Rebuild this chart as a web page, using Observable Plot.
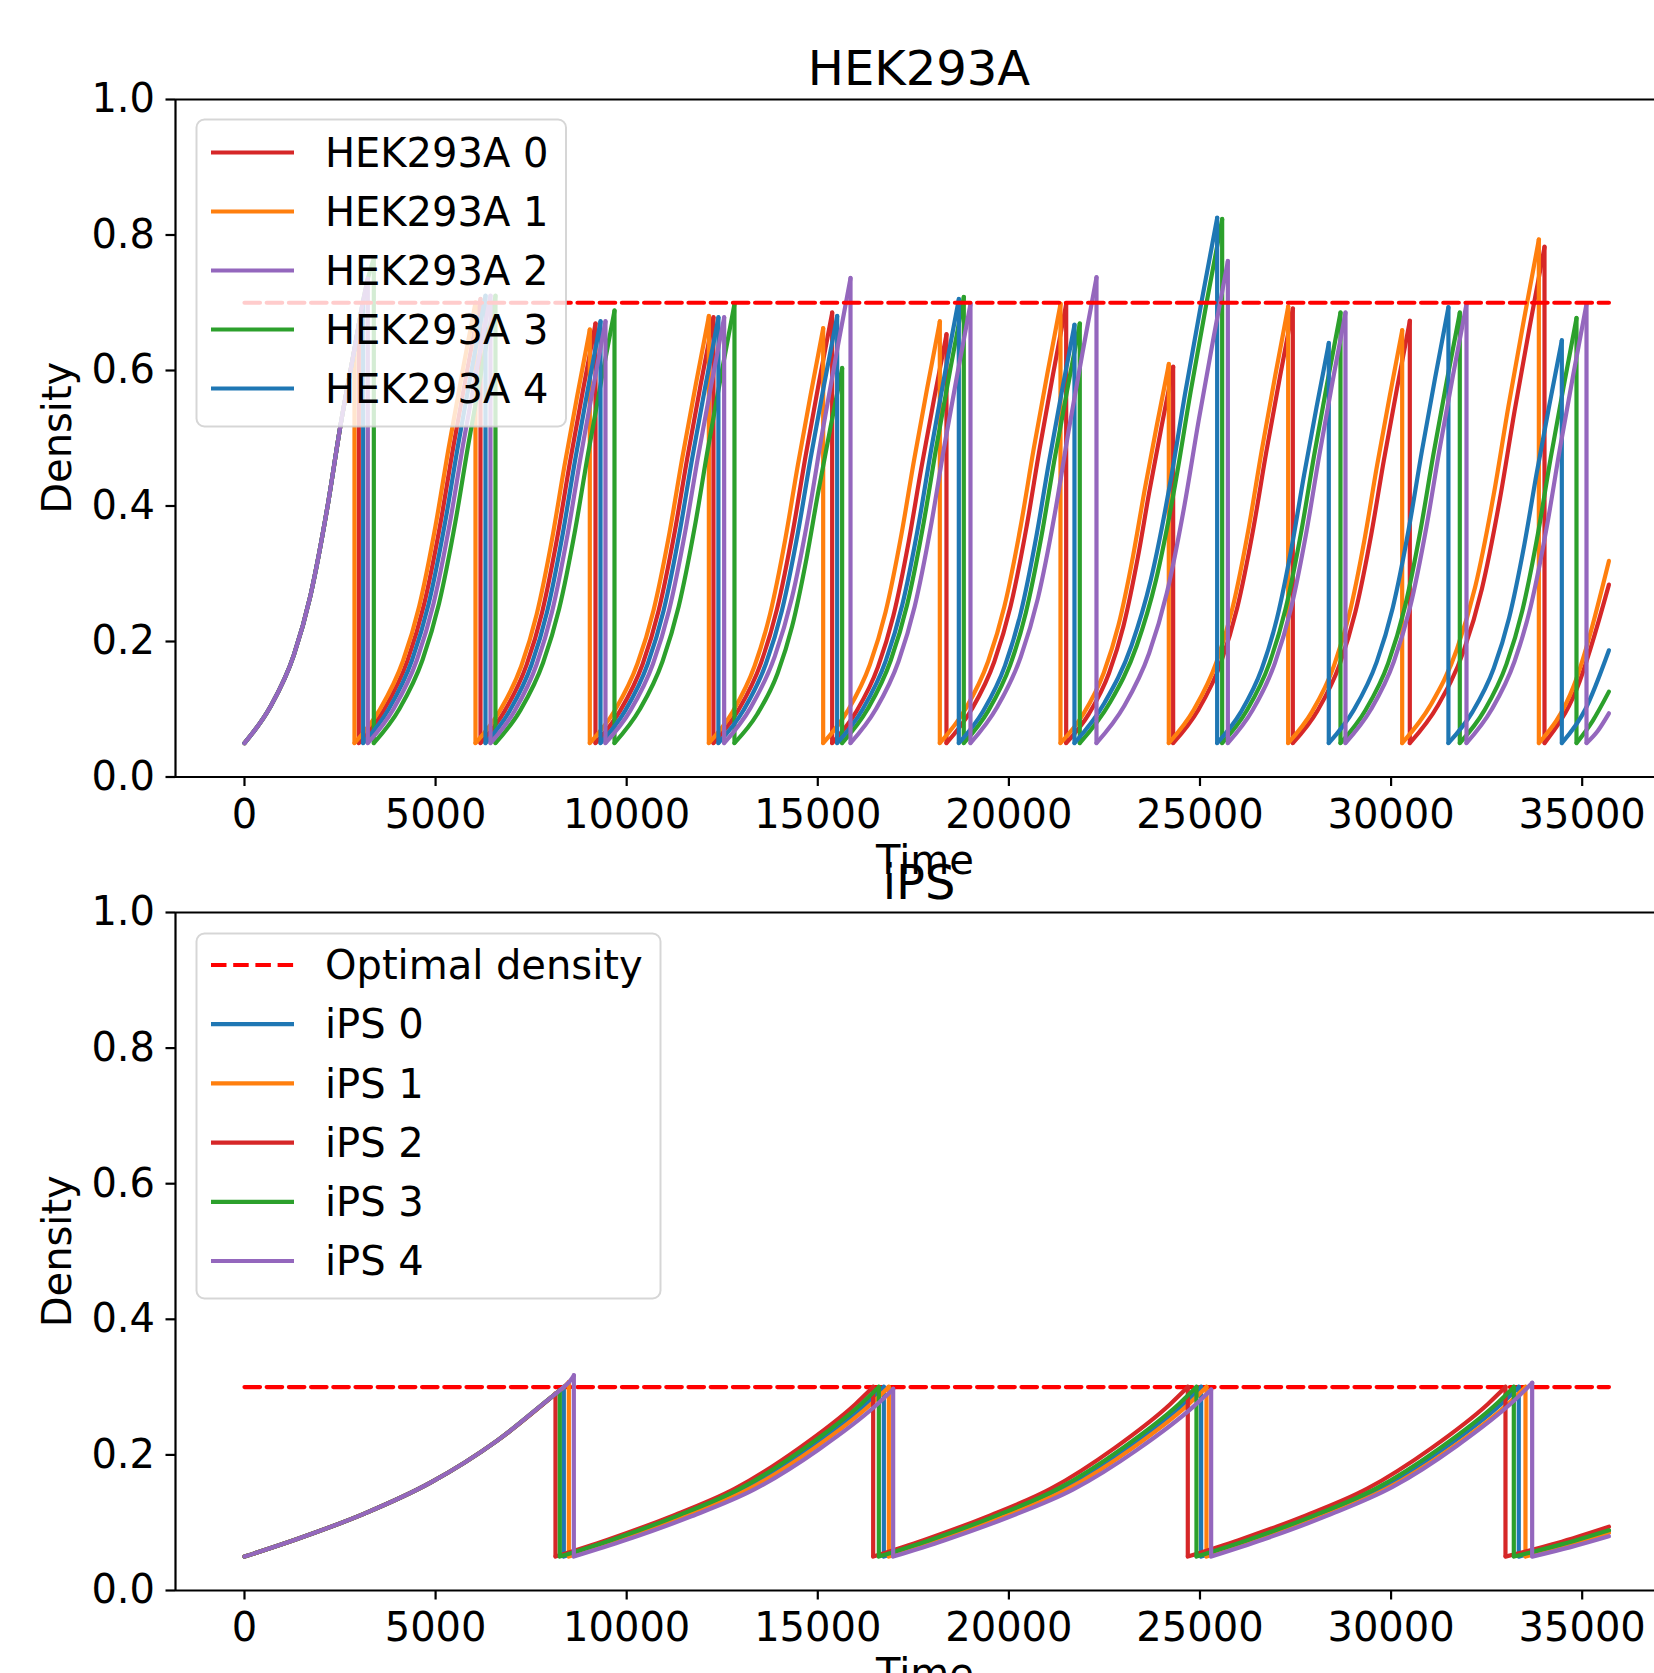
<!DOCTYPE html>
<html>
<head>
<meta charset="utf-8">
<script src="https://cdn.jsdelivr.net/npm/d3@7"></script>
<script src="https://cdn.jsdelivr.net/npm/@observablehq/plot@0.6"></script>
<style>
html, body { margin: 0; padding: 0; background: #ffffff; }
#fig { position: relative; width: 1654px; height: 1673px; overflow: hidden; background: #ffffff; font-family: "DejaVu Sans", sans-serif; }
#fig > svg { position: absolute; left: 0; }
</style>
</head>
<body>
<div id="fig"></div>
<script>
// ---------------- DATA ----------------
const END_TIME = 35700;          // last simulated time
const START_DENSITY = 0.05;      // density right after each passage

const hekTitle = "HEK293A";
const hekOptimal = 0.7;
const hekNames  = ["HEK293A 0", "HEK293A 1", "HEK293A 2", "HEK293A 3", "HEK293A 4"];
const hekColors = ["#d62728", "#ff7f0e", "#9467bd", "#2ca02c", "#1f77b4"];
// first growth phase, shared by all HEK293A series
const hekInitialTime    = [0, 680, 1291, 1727, 2163, 2512, 2878, 2991, 3105, 3227, 3384];
const hekInitialDensity = [0.05, 0.104, 0.180, 0.268, 0.396, 0.519, 0.632, 0.668, 0.703, 0.735, 0.765];
// passage (drop) times per series
const hekPassageTimes = [
  [2991, 6175, 9184, 12270, 15376, 18367, 21499, 24298, 27429, 30490, 34014],
  [2878, 6044, 9035, 12150, 15141, 18193, 21350, 24184, 27307, 30290, 33866],
  [3227, 6436, 9445, 12550, 15856, 18995, 22292, 25729, 28807, 31973, 35113],
  [3384, 6567, 9681, 12820, 15637, 18820, 21855, 25580, 28676, 31798, 34851],
  [3105, 6306, 9315, 12400, 15507, 18690, 21716, 25449, 28370, 31500, 34467]
];
// density reached just before each passage
const hekPeakDensity = [
  [0.668, 0.705, 0.669, 0.678, 0.685, 0.653, 0.698, 0.605, 0.691, 0.673, 0.782],
  [0.632, 0.700, 0.660, 0.680, 0.662, 0.672, 0.698, 0.609, 0.694, 0.659, 0.793],
  [0.735, 0.710, 0.672, 0.678, 0.736, 0.698, 0.737, 0.761, 0.685, 0.698, 0.698],
  [0.765, 0.710, 0.688, 0.698, 0.603, 0.708, 0.669, 0.823, 0.685, 0.685, 0.677],
  [0.703, 0.710, 0.672, 0.678, 0.680, 0.705, 0.667, 0.825, 0.640, 0.693, 0.644]
];
// last (unfinished) growth phase: density half way and at the last time point
const hekLastMidDensity = [0.130, 0.135, 0.068, 0.083, 0.100];
const hekEndDensity     = [0.284, 0.319, 0.094, 0.126, 0.187];
// growth-curve shape of a full passage (fraction of passage time, fraction of rise)
const hekShapeU = [0, 0.211, 0.400, 0.535, 0.670, 0.778, 0.890, 1];
const hekShapeV = [0, 0.077, 0.186, 0.311, 0.494, 0.670, 0.840, 1];

const ipsTitle = "iPS";
const ipsOptimal = 0.3;
const ipsNames  = ["iPS 0", "iPS 1", "iPS 2", "iPS 3", "iPS 4"];
const ipsColors = ["#1f77b4", "#ff7f0e", "#d62728", "#2ca02c", "#9467bd"];
const ipsInitialTime    = [0, 1379, 3122, 4866, 6612, 8137, 8250, 8355, 8486, 8617];
const ipsInitialDensity = [0.05, 0.076, 0.113, 0.159, 0.221, 0.290, 0.295, 0.300, 0.307, 0.317];
const ipsPassageTimes = [
  [8355, 16728, 25030, 33341],
  [8486, 16859, 25170, 33516],
  [8137, 16449, 24681, 32993],
  [8250, 16597, 24908, 33211],
  [8617, 16972, 25292, 33691]
];
const ipsPeakDensity = [
  [0.300, 0.300, 0.300, 0.300],
  [0.307, 0.300, 0.300, 0.300],
  [0.290, 0.300, 0.300, 0.300],
  [0.295, 0.300, 0.300, 0.300],
  [0.317, 0.297, 0.296, 0.306]
];
const ipsLastMidDensity = [0.067, 0.066, 0.070, 0.068, 0.064];
const ipsEndDensity     = [0.088, 0.085, 0.094, 0.089, 0.080];
const ipsShapeU = [0, 0.160, 0.362, 0.565, 0.767, 0.944, 1];
const ipsShapeV = [0, 0.097, 0.236, 0.401, 0.640, 0.899, 1];

const timeTicks = [0, 5000, 10000, 15000, 20000, 25000, 30000, 35000];
const densityTicks = [0, 0.2, 0.4, 0.6, 0.8, 1.0];
const xLabel = "Time";
const yLabel = "Density";
const optimalLabel = "Optimal density";

// ---------------- BUILD ----------------
const LW = 4.2;
const FONT = "DejaVu Sans";
const FS = 40;
const DASH = "15.5,6.7";
const X_DOMAIN = [-1805, 36892];

function buildSeries(cfg) {
  const {names, initT, initD, drops, peaks, mids, ends, U, V} = cfg;
  const lines = [], rules = [];
  names.forEach((name, i) => {
    const dr = drops[i];
    // first passage: shared initial growth curve up to this series' drop
    initT.forEach((t, j) => {
      if (t <= dr[0]) lines.push({series: name, seg: 0, time: t, density: initD[j]});
    });
    // full passages between two drops
    for (let k = 1; k < dr.length; k++) {
      const s = dr[k - 1], e = dr[k], p = peaks[i][k];
      U.forEach((u, j) => lines.push({series: name, seg: k, time: s + u * (e - s),
        density: START_DENSITY + V[j] * (p - START_DENSITY)}));
    }
    // last unfinished passage
    const last = dr[dr.length - 1];
    lines.push({series: name, seg: dr.length, time: last, density: START_DENSITY});
    lines.push({series: name, seg: dr.length, time: (last + END_TIME) / 2, density: mids[i]});
    lines.push({series: name, seg: dr.length, time: END_TIME, density: ends[i]});
    dr.forEach((t, k) => rules.push({series: name, time: t, base: START_DENSITY, top: peaks[i][k]}));
  });
  return {lines, rules};
}

function makePanel(cfg) {
  const {names, colors, optimal, order, dashOnTop, height, marginTop, marginBottom} = cfg;
  const {lines, rules} = buildSeries(cfg);
  const dashed = Plot.line([[0, optimal], [END_TIME, optimal]], {
    stroke: "#ff0000", strokeWidth: LW, strokeDasharray: DASH
  });
  const marks = [];
  if (!dashOnTop) marks.push(dashed);
  order.forEach(i => {
    const nm = names[i];
    marks.push(Plot.line(lines.filter(d => d.series === nm), {
      x: "time", y: "density", z: "seg", stroke: colors[i], strokeWidth: LW,
      curve: "monotone-x", strokeLinecap: "round", strokeLinejoin: "round"
    }));
    marks.push(Plot.ruleX(rules.filter(d => d.series === nm), {
      x: "time", y1: "base", y2: "top", stroke: colors[i], strokeWidth: LW, strokeLinecap: "round"
    }));
  });
  if (dashOnTop) marks.push(dashed);
  marks.push(Plot.ruleY([0], {stroke: "black", strokeWidth: 2.2}));
  marks.push(Plot.ruleY([1], {stroke: "black", strokeWidth: 2.2}));
  marks.push(Plot.ruleX([X_DOMAIN[0]], {stroke: "black", strokeWidth: 2.2}));
  marks.push(Plot.axisX(timeTicks, {tickFormat: d => String(d), tickSize: 9.5, tickPadding: 13,
    fontSize: FS, strokeWidth: 2.2, label: null}));
  marks.push(Plot.axisY(densityTicks, {tickFormat: d => d.toFixed(1), tickSize: 9.5, tickPadding: 11,
    fontSize: FS, strokeWidth: 2.2, label: null}));
  return Plot.plot({
    width: 1654, height, marginTop, marginBottom, marginLeft: 175, marginRight: 0,
    x: {domain: X_DOMAIN, label: null},
    y: {domain: [0, 1], label: null},
    style: {background: "transparent", overflow: "visible", fontFamily: FONT, color: "black"},
    marks
  });
}

const figDiv = document.getElementById("fig");

const hekPlot = makePanel({names: hekNames, colors: hekColors, initT: hekInitialTime, initD: hekInitialDensity,
  drops: hekPassageTimes, peaks: hekPeakDensity, mids: hekLastMidDensity, ends: hekEndDensity,
  U: hekShapeU, V: hekShapeV, optimal: hekOptimal, order: [0, 1, 3, 4, 2],
  dashOnTop: true, height: 860, marginTop: 99, marginBottom: 83.5});
hekPlot.style.top = "0px";
figDiv.appendChild(hekPlot);

const ipsPlot = makePanel({names: ipsNames, colors: ipsColors, initT: ipsInitialTime, initD: ipsInitialDensity,
  drops: ipsPassageTimes, peaks: ipsPeakDensity, mids: ipsLastMidDensity, ends: ipsEndDensity,
  U: ipsShapeU, V: ipsShapeV, optimal: ipsOptimal, order: [0, 1, 2, 3, 4],
  dashOnTop: false, height: 861, marginTop: 100, marginBottom: 83});
ipsPlot.style.top = "812px";
figDiv.appendChild(ipsPlot);

// ---------------- TEXT & LEGENDS (overlay) ----------------
const ov = d3.select(figDiv).append("svg")
  .attr("width", 1654).attr("height", 1673)
  .style("top", "0px").style("position", "absolute")
  .attr("font-family", FONT);

function addTexts(offset, title) {
  ov.append("text").attr("x", 919).attr("y", 85.4 + offset).attr("text-anchor", "middle")
    .attr("font-size", 48).attr("fill", "black").text(title);
  ov.append("text").attr("transform", `translate(70.5,${437.75 + offset}) rotate(-90)`)
    .attr("text-anchor", "middle").attr("font-size", FS).attr("fill", "black").text(yLabel);
  ov.append("text").attr("x", 925).attr("y", 873.5 + offset).attr("text-anchor", "middle")
    .attr("font-size", FS).attr("fill", "black").text(xLabel);
}

function addLegend(x, y, w, h, items, row0, step) {
  const g = ov.append("g");
  g.append("rect").attr("x", x).attr("y", y).attr("width", w).attr("height", h).attr("rx", 8)
    .attr("fill", "white").attr("fill-opacity", 0.8)
    .attr("stroke", "#cccccc").attr("stroke-opacity", 0.8).attr("stroke-width", 2);
  items.forEach((it, i) => {
    const cy = row0 + i * step;
    g.append("line").attr("x1", 211).attr("x2", 294).attr("y1", cy).attr("y2", cy)
      .attr("stroke", it.color).attr("stroke-width", LW)
      .attr("stroke-dasharray", it.dashed ? DASH : null);
    g.append("text").attr("x", 325).attr("y", cy + 14.2).attr("font-size", FS)
      .attr("fill", "black").text(it.label);
  });
}

addTexts(0, hekTitle);
addTexts(813.5, ipsTitle);

addLegend(196.5, 119.5, 369.5, 307,
  hekNames.map((n, i) => ({label: n, color: hekColors[i]})), 152.5, 59);
addLegend(196.5, 933.5, 464, 365,
  [{label: optimalLabel, color: "#ff0000", dashed: true}]
    .concat(ipsNames.map((n, i) => ({label: n, color: ipsColors[i]}))), 965, 59.2);
</script>
</body>
</html>
